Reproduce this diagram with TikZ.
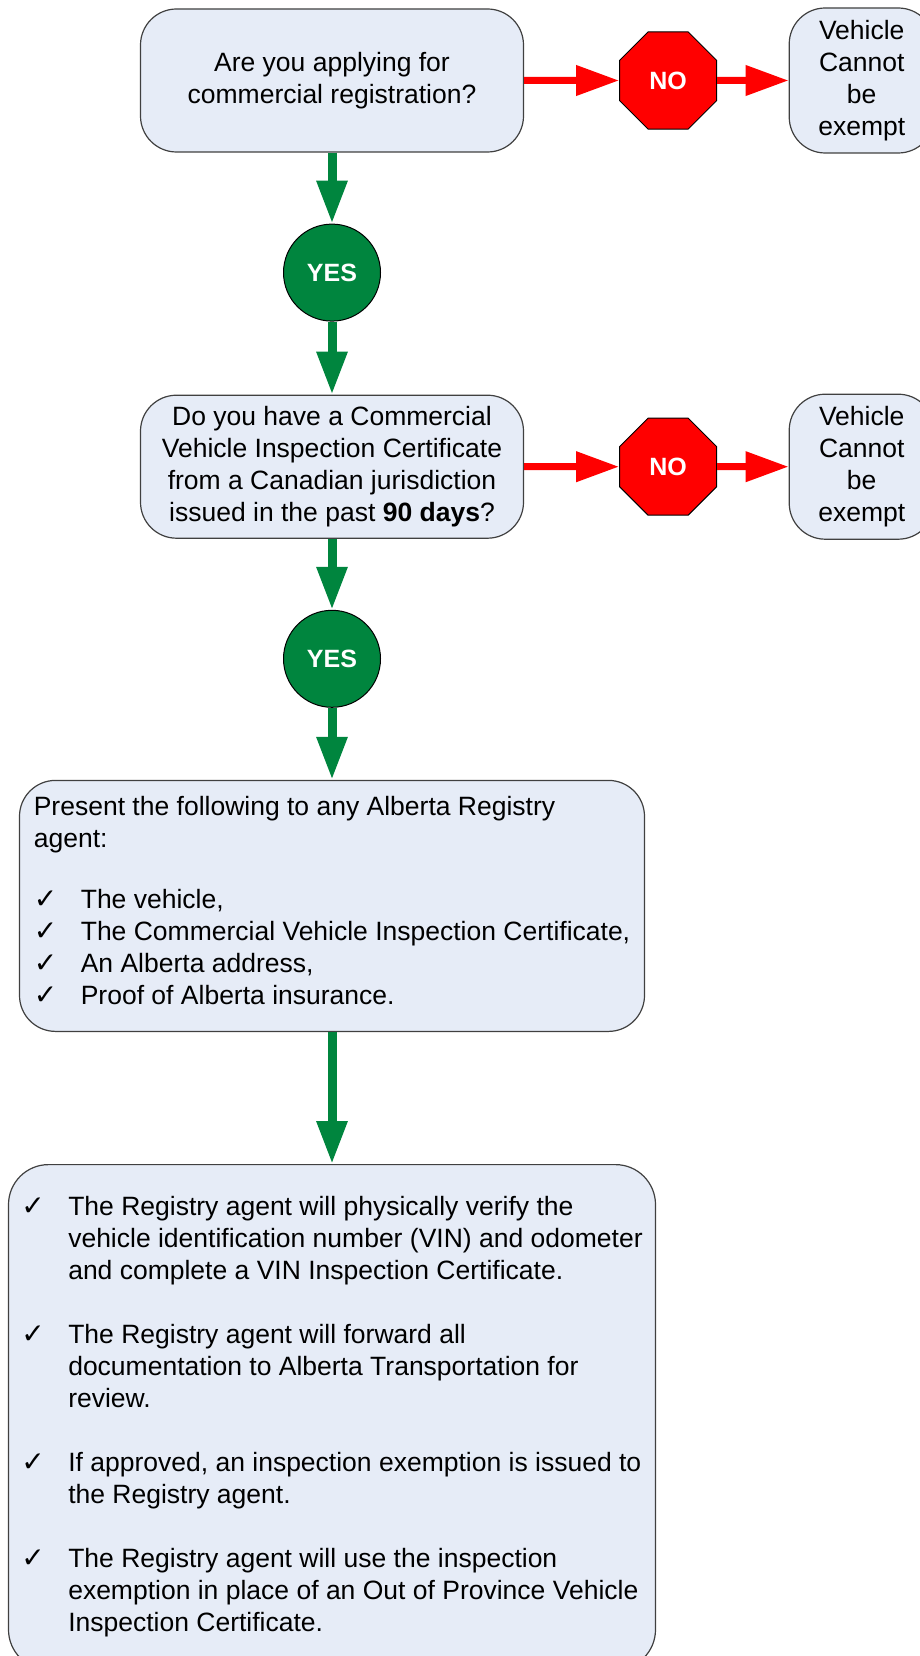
\documentclass[tikz,border=0pt]{standalone}
\usepackage{fontspec}
\setmainfont{Liberation Sans}
\newfontfamily\chkfont{DejaVu Sans}
\usetikzlibrary{arrows.meta,positioning,shapes.geometric}
\definecolor{boxfill}{RGB}{230,236,247}
\definecolor{boxline}{RGB}{64,64,64}
\definecolor{yesgreen}{RGB}{0,133,62}
\definecolor{nored}{RGB}{255,0,0}
\newcommand{\chk}{\makebox[47pt][l]{\chkfont\fontsize{28}{32}\selectfont ✓}}
\newcommand{\ind}{\hspace*{47pt}}

\begin{document}
\begin{tikzpicture}[x=1pt,y=-1pt,
  qbox/.style={draw=boxline,line width=1.2pt,fill=boxfill,rounded corners=36pt,align=center,inner sep=0pt,font=\fontsize{26.5}{32}\selectfont},
  yesnode/.style={circle,draw=black,line width=1pt,fill=yesgreen,minimum size=97pt,inner sep=0pt,text=white,font=\fontsize{25}{30}\selectfont\bfseries},
  nonode/.style={regular polygon,regular polygon sides=8,draw=black,line width=1pt,fill=nored,minimum size=105pt,inner sep=0pt,text=white,font=\fontsize{25}{30}\selectfont\bfseries},
  yesarrow/.style={yesgreen,line width=9pt,-{Triangle[length=43pt,width=29pt]}},
  noarrow/.style={nored,line width=7pt,-{Triangle[length=43pt,width=29pt]}}]
  \useasboundingbox (0,0) rectangle (920,1656);
  % first question
  \node[qbox,minimum width=383pt,minimum height=143pt] (comm) at (332,80.5) {Are you applying for\\commercial registration?};
  \node[nonode,right=95pt of comm] (no1) {NO};
  \node[qbox,minimum width=145pt,minimum height=145pt,right=71.5pt of no1] (exempt1) {Vehicle\\Cannot\\be\\exempt};
  \node[yesnode,below=71pt of comm] (yes1) {YES};
  % second question
  \node[qbox,minimum width=383pt,minimum height=143pt,below=73pt of yes1] (cert) {Do you have a Commercial\\Vehicle Inspection Certificate\\from a Canadian jurisdiction\\issued in the past \textbf{90 days}?};
  \node[nonode,right=95pt of cert] (no2) {NO};
  \node[qbox,minimum width=145pt,minimum height=145pt,right=71.5pt of no2] (exempt2) {Vehicle\\Cannot\\be\\exempt};
  \node[yesnode,below=71pt of cert] (yes2) {YES};
  % what to bring
  \node[qbox,minimum width=625pt,minimum height=251pt,align=left,inner xsep=12pt,below=72pt of yes2] (present) {Present the following to any Alberta Registry\\agent:\\[29pt]
    \chk The vehicle,\\
    \chk The Commercial Vehicle Inspection Certificate,\\
    \chk An Alberta address,\\
    \chk Proof of Alberta insurance.\rule[-11pt]{0pt}{11pt}};
  \node[qbox,minimum width=647pt,minimum height=505pt,align=left,inner xsep=10pt,rounded corners=40pt,below=132pt of present] (steps) {\chk The Registry agent will physically verify the\\
    \ind vehicle identification number (VIN) and odometer\\
    \ind and complete a VIN Inspection Certificate.\\[32pt]
    \chk The Registry agent will forward all\\
    \ind documentation to Alberta Transportation for\\
    \ind review.\\[32pt]
    \chk If approved, an inspection exemption is issued to\\
    \ind the Registry agent.\\[32pt]
    \chk The Registry agent will use the inspection\\
    \ind exemption in place of an Out of Province Vehicle\\
    \ind Inspection Certificate.};
  % connectors
  \draw[noarrow] (comm) -- (no1);
  \draw[noarrow] (no1) -- (exempt1);
  \draw[noarrow] (cert) -- (no2);
  \draw[noarrow] (no2) -- (exempt2);
  \draw[yesarrow] (comm) -- (yes1);
  \draw[yesarrow] (yes1) -- (cert);
  \draw[yesarrow] (cert) -- (yes2);
  \draw[yesarrow] (yes2) -- (present);
  \draw[yesarrow] (present) -- (steps);
\end{tikzpicture}
\end{document}
